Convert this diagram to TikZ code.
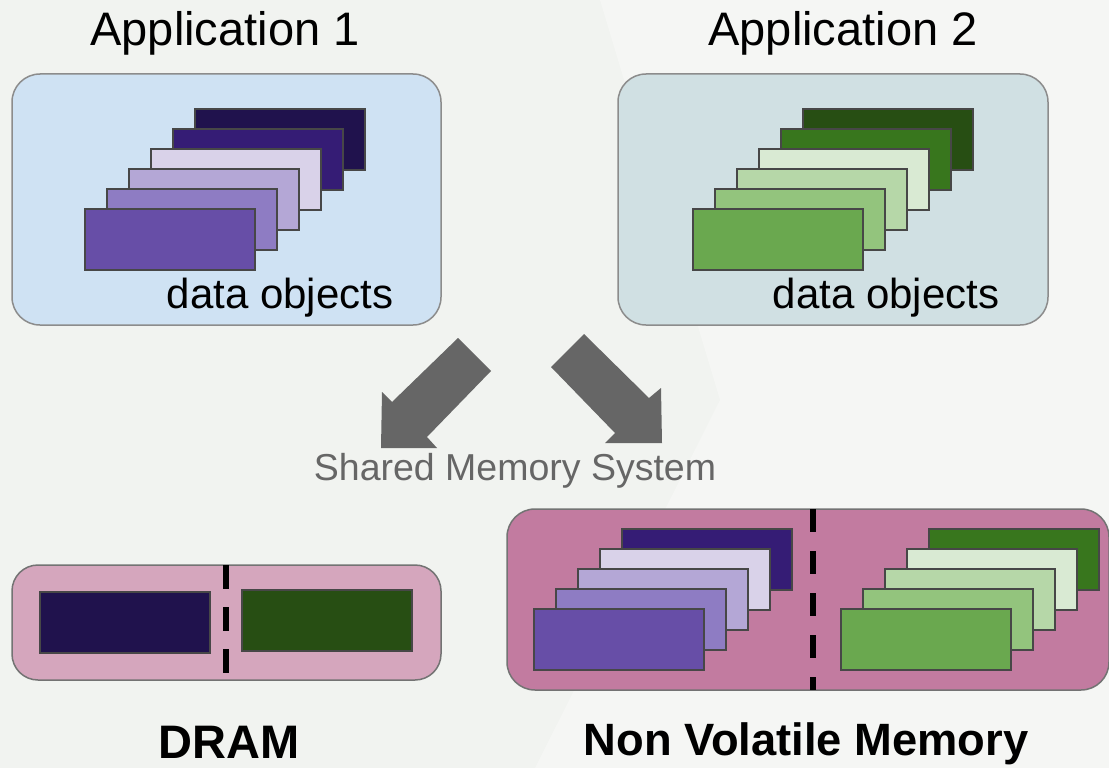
\documentclass[tikz,border=0pt]{standalone}
\usepackage{fontspec}
\setmainfont{Liberation Sans}
\definecolor{bgc}{HTML}{F1F3F0}
\definecolor{bgl}{HTML}{F5F6F4}
\definecolor{appa}{HTML}{CFE2F3}
\definecolor{appb}{HTML}{D0E0E3}
\definecolor{dramc}{HTML}{D5A6BD}
\definecolor{nvmc}{HTML}{C27BA0}
\definecolor{pA}{HTML}{20124D}
\definecolor{pB}{HTML}{351C75}
\definecolor{pC}{HTML}{D9D2E9}
\definecolor{pD}{HTML}{B4A7D6}
\definecolor{pE}{HTML}{8E7CC3}
\definecolor{pF}{HTML}{674EA7}
\definecolor{gA}{HTML}{274E13}
\definecolor{gB}{HTML}{38761D}
\definecolor{gC}{HTML}{D9EAD3}
\definecolor{gD}{HTML}{B6D7A8}
\definecolor{gE}{HTML}{93C47D}
\definecolor{gF}{HTML}{6AA84F}
\definecolor{arrc}{HTML}{666666}
\newcommand\objrect[4]{\node[objbox,fill=#4] (#1) at (#2+86,#3+31.5) {};}
\begin{document}
\begin{tikzpicture}[x=1pt,y=-1pt,
  container/.style={draw=black!45,line width=1.5pt,rounded corners=28pt,inner sep=0pt,outer sep=0pt},
  objbox/.style={draw=black!72,line width=2pt,minimum width=170pt,minimum height=61pt,inner sep=0pt,outer sep=0pt},
  title/.style={anchor=base,inner sep=0pt,font=\fontsize{47}{52}\selectfont},
  lbl/.style={anchor=base,inner sep=0pt,font=\fontsize{42}{46}\selectfont},
  memlbl/.style={anchor=base,inner sep=0pt,font=\fontsize{47}{50}\selectfont\bfseries},
  cut/.style={draw=black,line width=6pt,dash pattern=on 23pt off 19pt},
  blockarrow/.style={fill=arrc,draw=none}]
\useasboundingbox (0,0) rectangle (1109,768);
\fill[bgc] (0,0) rectangle (1109,768);
\fill[bgl] (600,0) -- (720,400) -- (535,768) -- (1109,768) -- (1109,0) -- cycle;
% titles
\node[title] (t1) at (225,46) {Application 1};
\node[title] (t2) at (843,46) {Application 2};
% application containers
\node[container,fill=appa,minimum width=429pt,minimum height=251pt] (app1) at (226.5,199.5) {};
\node[container,fill=appb,minimum width=430pt,minimum height=251pt] (app2) at (833,199.5) {};
% app1 objects
\objrect{a1}{194}{108}{pA}
\objrect{a2}{172}{128}{pB}
\objrect{a3}{150}{148}{pC}
\objrect{a4}{128}{168}{pD}
\objrect{a5}{106}{188}{pE}
\objrect{a6}{84}{208}{pF}
% app2 objects
\objrect{b1}{802}{108}{gA}
\objrect{b2}{780}{128}{gB}
\objrect{b3}{758}{148}{gC}
\objrect{b4}{736}{168}{gD}
\objrect{b5}{714}{188}{gE}
\objrect{b6}{692}{208}{gF}
\node[lbl] (d1) at (280,308) {data objects};
\node[lbl] (d2) at (886,308) {data objects};
% block arrows
\fill[blockarrow] (458,338) -- (491,371) -- (427,437) -- (437,448) -- (381,448) -- (382,392) -- (392,402) -- cycle;
\fill[blockarrow] (584,334) -- (649,398) -- (661,388) -- (662,443) -- (605,443) -- (615,433) -- (551,367) -- cycle;
\node[lbl,text=arrc,font=\fontsize{37.5}{42}\selectfont] (sms) at (515,480) {Shared Memory System};
% DRAM
\node[container,fill=dramc,draw=black!55,rounded corners=26pt,minimum width=429pt,minimum height=115pt] (dram) at (226.5,622.5) {};
\objrect{dp}{39}{591}{pA}
\objrect{dg}{241}{589}{gA}
\coordinate (dcut) at (226,0);
\draw[cut,dash pattern=on 24pt off 18pt] (dram.north -| dcut) -- ([yshift=-7pt]dram.south -| dcut);
% NVM
\node[container,fill=nvmc,draw=black!55,minimum width=602pt,minimum height=181pt] (nvm) at (808,599.5) {};
\objrect{n1}{621}{528}{pB}
\objrect{n2}{599}{548}{pC}
\objrect{n3}{577}{568}{pD}
\objrect{n4}{555}{588}{pE}
\objrect{n5}{533}{608}{pF}
\objrect{m1}{928}{528}{gB}
\objrect{m2}{906}{548}{gC}
\objrect{m3}{884}{568}{gD}
\objrect{m4}{862}{588}{gE}
\objrect{m5}{840}{608}{gF}
\coordinate (ncut) at (813,0);
\draw[cut] (nvm.north -| ncut) -- (nvm.south -| ncut);
% memory labels
\node[memlbl] (dl) at (229,758) {DRAM};
\node[memlbl,font=\fontsize{45.3}{50}\selectfont\bfseries] (nl) at (806,755) {Non Volatile Memory};
\end{tikzpicture}
\end{document}
